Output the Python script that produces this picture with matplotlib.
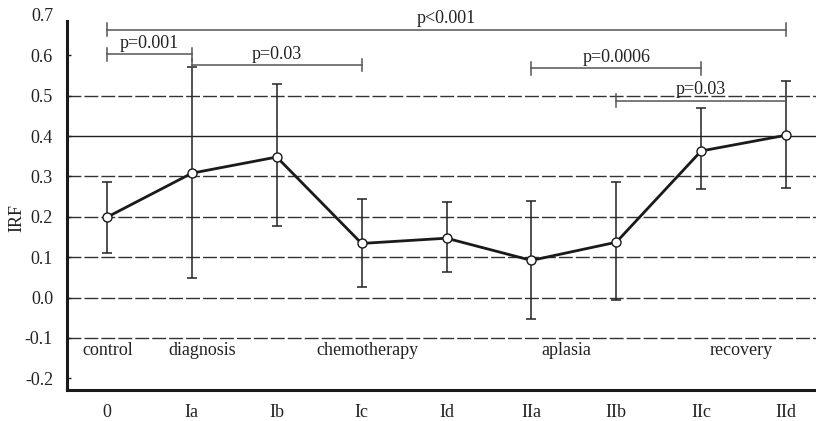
import numpy as np
import matplotlib
matplotlib.use('Agg')
import matplotlib.pyplot as plt

plt.rcParams['font.family'] = 'Liberation Serif'
plt.rcParams.update({'font.size': 13})

# data
stages = ['0', 'Ia', 'Ib', 'Ic', 'Id', 'IIa', 'IIb', 'IIc', 'IId']
irf = [0.199, 0.308, 0.348, 0.134, 0.147, 0.092, 0.137, 0.363, 0.402]
irf_hi = [0.285, 0.572, 0.529, 0.243, 0.236, 0.239, 0.285, 0.470, 0.537]
irf_lo = [0.110, 0.049, 0.176, 0.027, 0.063, -0.053, -0.006, 0.268, 0.272]

phases = ['control', 'diagnosis', 'chemotherapy', 'aplasia', 'recovery']
phase_x = [0.01, 1.12, 3.07, 5.41, 7.47]

# significance brackets: (start index, end index, height, label)
brackets = [
    (0, 8, 0.663, 'p<0.001'),
    (0, 1, 0.603, 'p=0.001'),
    (1, 3, 0.576, 'p=0.03'),
    (5, 7, 0.568, 'p=0.0006'),
    (6, 8, 0.488, 'p=0.03'),
]

yticks = [-0.2, -0.1, 0.0, 0.1, 0.2, 0.3, 0.4, 0.5, 0.6, 0.7]
grid_dashed = [-0.1, 0.0, 0.1, 0.2, 0.3, 0.5]
grid_solid = [0.4]

x = np.arange(len(stages))
irf = np.array(irf)
err = [irf - np.array(irf_lo), np.array(irf_hi) - irf]

fig = plt.figure(figsize=(8.16, 4.21), dpi=100)
ax = fig.add_axes([0.0821, 0.0736, 0.9179, 0.891])

for g in grid_dashed:
    ax.axhline(g, color='#333333', lw=1.0, ls=(0, (10, 2.2)), zorder=1)
for g in grid_solid:
    ax.axhline(g, color='#222222', lw=1.0, zorder=1)

ax.errorbar(x, irf, yerr=err, fmt='none', ecolor='#222222', elinewidth=1.1,
            capsize=3.8, capthick=1.1, zorder=2)
ax.plot(x, irf, color='#1a1a1a', lw=2.0, marker='o', ms=6.5,
        mfc='white', mec='#1a1a1a', mew=1.0, zorder=3)

bc = '#555555'
th = 0.016
for i0, i1, h, lab in brackets:
    ax.plot([x[i0], x[i1]], [h, h], color=bc, lw=1.1, clip_on=False, zorder=2)
    for xi in (x[i0], x[i1]):
        ax.plot([xi, xi], [h - th, h + th], color=bc, lw=1.1, clip_on=False, zorder=2)
    ax.text((x[i0] + x[i1]) / 2, h + 0.006, lab, ha='center', va='bottom',
            color='#222222', clip_on=False)

for px, lab in zip(phase_x, phases):
    ax.text(px, -0.13, lab, ha='center', va='center', color='#222222')

ax.set_xlim(-0.471, 8.353)
ax.set_ylim(-0.229, 0.70)
ax.set_xticks(x)
ax.set_xticklabels(stages)
ax.set_yticks(yticks)
ax.set_yticklabels([f'{t:.1f}' for t in yticks])
ax.tick_params(axis='x', length=0, pad=10, colors='#222222')
ax.tick_params(axis='y', direction='in', length=3, width=1, pad=10, colors='#222222')
ax.yaxis.get_major_ticks()[-1].tick1line.set_visible(False)
fig.text(17 / 816, 1 - 218 / 421, 'IRF', rotation=90, ha='center', va='center',
         color='#222222')

for s in ('top', 'right'):
    ax.spines[s].set_visible(False)
for s in ('left', 'bottom'):
    ax.spines[s].set_linewidth(2.2)
    ax.spines[s].set_color('#1a1a1a')
ax.spines['left'].set_bounds(-0.229, 0.685)

fig.savefig('out.png', dpi=100)
